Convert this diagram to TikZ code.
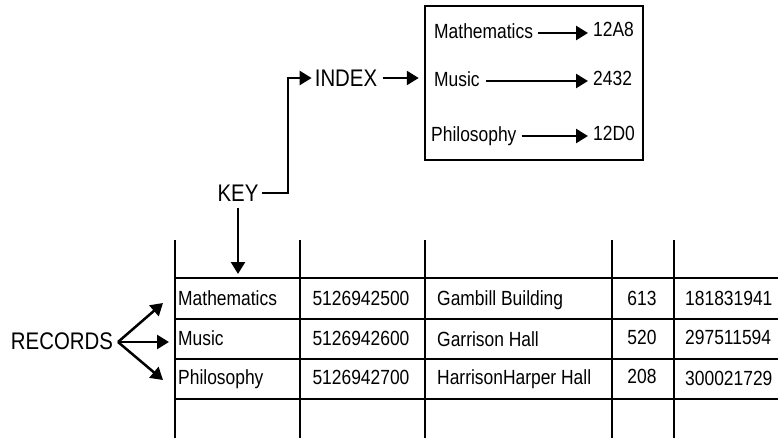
\documentclass[tikz,border=0pt]{standalone}
\usepackage{fontspec}
\setmainfont{Liberation Sans}[FakeStretch=0.85]
\usetikzlibrary{arrows.meta}
\begin{document}
\begin{tikzpicture}[x=1pt,y=-1pt,
  ln/.style={line width=2.5pt},
  tip/.style={-{Triangle[length=12pt,width=14pt]}},
  arr/.style={ln,tip},
  cell/.style={inner sep=0pt,font=\fontsize{20.5}{24}\selectfont,text height=14.7pt,text depth=4pt},
  lbl/.style={inner sep=0pt,font=\fontsize{24}{28}\selectfont,text height=17.2pt,text depth=0pt}]
\useasboundingbox (0,0) rectangle (778,438);
% index box
\node[draw,line width=2.5pt,minimum width=218pt,minimum height=154pt,inner sep=0pt] (box) at (534,83) {};
\node[cell,anchor=west] (bm) at (434,33) {Mathematics};
\node[cell,anchor=west] (bmv) at (593,31) {12A8};
\node[cell,anchor=west] (bu) at (434,81) {Music};
\node[cell,anchor=west] (buv) at (593,80) {2432};
\node[cell,anchor=west] (bp) at (431,136) {Philosophy};
\node[cell,anchor=west] (bpv) at (593,135) {12D0};
\draw[arr,shorten <=5pt,shorten >=5pt] (bm.east) -- (bm.east -| bmv.west);
\draw[arr,shorten <=6pt,shorten >=5pt] (bu.east) -- (bu.east -| buv.west);
\draw[arr,shorten <=5pt,shorten >=5pt] (bp.east) -- (bp.east -| bpv.west);
% index and key
\node[lbl] (index) at (346,78) {INDEX};
\node[lbl] (key) at (238,193) {KEY};
\draw[arr,shorten <=6pt,shorten >=5pt] (index.east) -- (index.east -| box.west);
\coordinate (bend) at (288,193);
\draw[arr,shorten <=3pt,shorten >=3pt] (key.east) -- (bend) |- (index.west);
\coordinate (keytgt) at (238,274);
\draw[arr,shorten <=6pt] (key.south) -- (keytgt);
% table
\foreach \x/\n in {175/v1,300/v2,425/v3,612/v4,674/v5}{
  \coordinate (\n t) at (\x,240); \coordinate (\n b) at (\x,438);
  \draw[ln] (\n t) -- (\n b);}
\foreach \y/\n in {278/h1,319/h2,359/h3,399/h4}{
  \coordinate (\n l) at (175,\y); \coordinate (\n r) at (778,\y);
  \draw[ln] (\n l) -- (\n r);}
\node[cell,anchor=west] (a1) at (178,300) {Mathematics};
\node[cell] (b1) at (361,300) {5126942500};
\node[cell,anchor=west] (c1) at (437,300) {Gambill Building};
\node[cell] (d1) at (642,300) {613};
\node[cell,anchor=west] (e1) at (685,300) {181831941};
\node[cell,anchor=west] (a2) at (178,340) {Music};
\node[cell] (b2) at (361,340) {5126942600};
\node[cell,anchor=west] (c2) at (437,341) {Garrison Hall};
\node[cell] (d2) at (642,339) {520};
\node[cell,anchor=west] (e2) at (685,339) {297511594};
\node[cell,anchor=west] (a3) at (178,379) {Philosophy};
\node[cell] (b3) at (361,379) {5126942700};
\node[cell,anchor=west] (c3) at (437,379) {HarrisonHarper Hall};
\node[cell] (d3) at (642,378) {208};
\node[cell,anchor=west] (e3) at (685,380) {300021729};
% records
\node[lbl] (rec) at (62,341) {RECORDS};
\coordinate (r0) at (118,342);
\coordinate (r1) at (163,303);
\coordinate (r2) at (169,342);
\coordinate (r3) at (163,380);
\draw[arr] (r0) -- (r1);
\draw[arr] (r0) -- (r2);
\draw[arr] (r0) -- (r3);
\end{tikzpicture}
\end{document}
